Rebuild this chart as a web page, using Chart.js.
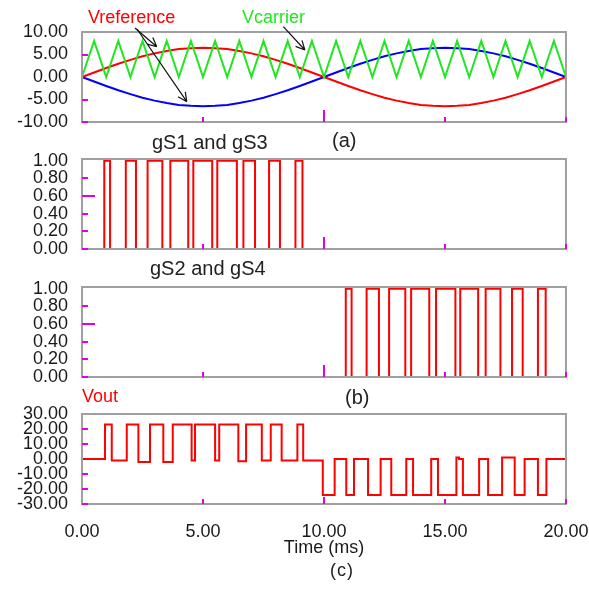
<!DOCTYPE html>
<html>
<head>
<meta charset="utf-8">
<title>Unipolar PWM waveforms</title>
<script src="https://cdn.jsdelivr.net/npm/chart.js@4.4.1/dist/chart.umd.min.js"></script>
<style>
  body { margin: 0; background: #fff; }
  #wrap { position: relative; width: 589px; height: 592px; overflow: hidden; font-family: "Liberation Sans", Arial, sans-serif; }
  #wrap canvas { position: absolute; left: 0; }
  .lbl { position: absolute; white-space: nowrap; font-size: 18px; line-height: 18px; color: #222; }
  .big { font-size: 20px; line-height: 20px; }
</style>
</head>
<body>
<div id="wrap">
  <canvas id="chartA" width="589" height="150" style="top:0px"></canvas>
  <canvas id="chartB" width="589" height="160" style="top:120px"></canvas>
  <canvas id="chartC" width="589" height="160" style="top:250px"></canvas>
  <canvas id="chartD" width="589" height="212" style="top:380px"></canvas>

  <div class="lbl" style="left:88px;top:8px;color:#ff0000">Vreference</div>
  <div class="lbl" style="left:242px;top:8px;color:#22e622">Vcarrier</div>
  <div class="lbl big" style="left:332px;top:130px">(a)</div>
  <div class="lbl big" style="left:152px;top:132px">gS1 and gS3</div>
  <div class="lbl big" style="left:150px;top:258px">gS2 and gS4</div>
  <div class="lbl" style="left:82px;top:386.5px;color:#ff0000">Vout</div>
  <div class="lbl big" style="left:345px;top:387px">(b)</div>
  <div class="lbl" style="left:330px;top:561px;letter-spacing:1px">(c)</div>
</div>
<script>
// time axis (ms) for the reference / carrier traces
const timeMs = [0, 0.5, 1, 1.5, 2, 2.5, 3, 3.5, 4, 4.5, 5, 5.5, 6, 6.5, 7, 7.5, 8, 8.5, 9, 9.5, 10,
  10.5, 11, 11.5, 12, 12.5, 13, 13.5, 14, 14.5, 15, 15.5, 16, 16.5, 17, 17.5, 18, 18.5, 19, 19.5, 20];
const vReference = [0, 1.0, 2.0, 2.95, 3.8, 4.6, 5.25, 5.8, 6.2, 6.4, 6.5, 6.4, 6.2, 5.8, 5.25, 4.6, 3.8, 2.95, 2.0, 1.0, 0,
  -1.0, -2.0, -2.95, -3.8, -4.6, -5.25, -5.8, -6.2, -6.4, -6.5, -6.4, -6.2, -5.8, -5.25, -4.6, -3.8, -2.95, -2.0, -1.0, 0];
const vReferenceInv = [0, -1.0, -2.0, -2.95, -3.8, -4.6, -5.25, -5.8, -6.2, -6.4, -6.5, -6.4, -6.2, -5.8, -5.25, -4.6, -3.8, -2.95, -2.0, -1.0, 0,
  1.0, 2.0, 2.95, 3.8, 4.6, 5.25, 5.8, 6.2, 6.4, 6.5, 6.4, 6.2, 5.8, 5.25, 4.6, 3.8, 2.95, 2.0, 1.0, 0];
const vCarrier = [0, 8, 0, 8, 0, 8, 0, 8, 0, 8, 0, 8, 0, 8, 0, 8, 0, 8, 0, 8, 0,
  8, 0, 8, 0, 8, 0, 8, 0, 8, 0, 8, 0, 8, 0, 8, 0, 8, 0, 8, 0];

// gate pulse edges (ms)
const gs13Rise = [0.92, 1.81, 2.71, 3.65, 4.60, 5.59, 6.67, 7.73, 8.82];
const gs13Fall = [1.16, 2.23, 3.32, 4.39, 5.38, 6.40, 7.15, 8.18, 9.11];
const gs24Rise = [10.90, 11.76, 12.69, 13.60, 14.63, 15.63, 16.68, 17.77, 18.84];
const gs24Fall = [11.14, 12.27, 13.36, 14.35, 15.43, 16.37, 17.29, 18.21, 19.16];

// output voltage, level held from each time until the next
const voutTimes = [0, 0.95, 1.23, 1.85, 2.33, 2.81, 3.36, 3.75, 4.53, 4.67, 5.50, 5.67, 6.46, 6.78, 7.43, 7.80, 8.25, 8.90, 9.14,
  9.95, 10.44, 10.92, 11.24, 11.82, 12.34, 12.78, 13.40, 13.68, 14.43, 14.71, 15.47, 15.58, 15.74, 16.41, 16.78, 17.36, 17.88,
  18.29, 18.84, 19.19, 20];
const voutLevels = [0, 23, -1, 23, -2, 23, -2, 23, -1, 23, -1, 23, -1.5, 23, -1, 23, -1, 23, -1,
  -24, 0, -24, 0, -24, 0, -24, 0, -24, 0, -24, 1, 0, -24, 0, -24, 1, -24,
  0, -24, 0, 0];

// axis ticks
const xTicks = [0, 5, 10, 15, 20];
const yTicksA = [-10, -5, 0, 5, 10];
const yTicksGate = [0, 0.2, 0.4, 0.6, 0.8, 1];
const yTicksOut = [-30, -20, -10, 0, 10, 20, 30];

// annotation arrows, [time, volts]
const arrowTails = [[2.19, 10.9], [2.27, 10.67], [8.32, 11.18]];
const arrowHeads = [[3.09, 6.73], [4.33, -5.49], [9.21, 6.0]];

const FONT = '"Liberation Sans", Arial, sans-serif';
const RED = '#ff0000';

function xy(xs, ys) {
  return xs.map((x, i) => ({ x: x, y: ys[i] }));
}

function gateSteps(rise, fall) {
  const pts = [{ x: 0, y: 0 }];
  rise.forEach((t, i) => pts.push({ x: t, y: 1 }, { x: fall[i], y: 0 }));
  pts.push({ x: 20, y: 0 });
  return pts;
}

// gray frame + magenta minor marks, drawn over the traces
const frame = {
  id: 'frame',
  afterDatasetsDraw(chart, args, opts) {
    const { ctx, chartArea: a, scales: { x, y } } = chart;
    ctx.save();
    ctx.strokeStyle = '#a0a0a0';
    ctx.lineWidth = 2;
    ctx.strokeRect(a.left, a.top, a.right - a.left, a.bottom - a.top);
    ctx.strokeStyle = '#e000e0';
    ctx.beginPath();
    opts.yMarks.forEach((v) => {
      const py = Math.round(y.getPixelForValue(v));
      ctx.moveTo(a.left, py);
      ctx.lineTo(a.left + (v === opts.yLong ? 13 : 6), py);
    });
    opts.xMarks.forEach((v) => {
      const px = Math.round(x.getPixelForValue(v));
      ctx.moveTo(px, a.bottom);
      ctx.lineTo(px, a.bottom - (v === 10 ? opts.xLong : 5));
    });
    ctx.stroke();
    ctx.restore();
  }
};

const arrows = {
  id: 'arrows',
  afterDraw(chart) {
    const { ctx, scales: { x, y } } = chart;
    ctx.save();
    ctx.strokeStyle = '#111';
    ctx.lineWidth = 1.2;
    arrowTails.forEach((s, i) => {
      const e = arrowHeads[i];
      const x0 = x.getPixelForValue(s[0]), y0 = y.getPixelForValue(s[1]);
      const x1 = x.getPixelForValue(e[0]), y1 = y.getPixelForValue(e[1]);
      const ang = Math.atan2(y1 - y0, x1 - x0);
      ctx.beginPath();
      ctx.moveTo(x0, y0);
      ctx.lineTo(x1, y1);
      [-0.45, 0.45].forEach((d) => {
        ctx.moveTo(x1, y1);
        ctx.lineTo(x1 - 10 * Math.cos(ang + d), y1 - 10 * Math.sin(ang + d));
      });
      ctx.stroke();
    });
    ctx.restore();
  }
};

function yAxis(min, max, ticks) {
  return {
    min: min,
    max: max,
    afterBuildTicks: (s) => { s.ticks = ticks.map((v) => ({ value: v })); },
    afterFit: (s) => { s.width = 82; s.paddingTop = 0; s.paddingBottom = 0; },
    grid: { display: false, drawTicks: false },
    border: { display: false },
    ticks: {
      autoSkip: false,
      padding: 14,
      color: '#1a1a1a',
      font: { size: 18, family: FONT },
      callback: (v) => Number(v).toFixed(2)
    }
  };
}

function line(data, color, stepped) {
  return {
    data: data,
    borderColor: color,
    borderWidth: 2,
    pointRadius: 0,
    fill: false,
    tension: 0,
    stepped: stepped || false,
    clip: 2
  };
}

function makeChart(id, datasets, yScale, xScale, padding, marks, extra) {
  return new Chart(document.getElementById(id), {
    type: 'line',
    data: { datasets: datasets },
    options: {
      responsive: false,
      animation: false,
      events: [],
      layout: { padding: padding },
      scales: { x: xScale, y: yScale },
      plugins: { legend: { display: false }, tooltip: { enabled: false }, frame: marks }
    },
    plugins: [frame].concat(extra || [])
  });
}

const hiddenX = { type: 'linear', min: 0, max: 20, display: false };

makeChart('chartA', [
  line(xy(timeMs, vCarrier), '#22e622'),
  line(xy(timeMs, vReference), RED),
  line(xy(timeMs, vReferenceInv), '#0000ff')
], yAxis(-10, 10, yTicksA), hiddenX, { top: 32, bottom: 28, left: 0, right: 23 },
  { yMarks: [-10, -5, 5], yLong: null, xMarks: [5, 10, 15, 20], xLong: 12 }, [arrows]);

makeChart('chartB', [line(gateSteps(gs13Rise, gs13Fall), RED, true)],
  yAxis(0, 1.02, yTicksGate), hiddenX, { top: 39, bottom: 31, left: 0, right: 23 },
  { yMarks: [0, 0.2, 0.4, 0.6, 0.8], yLong: 0.6, xMarks: [5, 10, 15, 20], xLong: 12 });

makeChart('chartC', [line(gateSteps(gs24Rise, gs24Fall), RED, true)],
  yAxis(0, 1.02, yTicksGate), hiddenX, { top: 37, bottom: 33, left: 0, right: 23 },
  { yMarks: [0, 0.2, 0.4, 0.6, 0.8], yLong: 0.6, xMarks: [5, 10, 15, 20], xLong: 12 });

makeChart('chartD', [line(xy(voutTimes, voutLevels), RED, true)],
  yAxis(-30, 30, yTicksOut), {
    type: 'linear',
    min: 0,
    max: 20,
    afterBuildTicks: (s) => { s.ticks = xTicks.map((v) => ({ value: v })); },
    afterFit: (s) => { s.height = 88; s.paddingLeft = 0; s.paddingRight = 0; },
    grid: { display: false, drawTicks: false },
    border: { display: false },
    ticks: {
      autoSkip: false,
      maxRotation: 0,
      padding: 17,
      color: '#1a1a1a',
      font: { size: 18, family: FONT },
      callback: (v) => Number(v).toFixed(2)
    },
    title: {
      display: true,
      text: 'Time (ms)',
      color: '#1a1a1a',
      font: { size: 18, family: FONT },
      padding: { top: 0, bottom: 33 }
    }
  }, { top: 34, bottom: 0, left: 0, right: 23 },
  { yMarks: [-30, -20, -10, 10, 20], yLong: null, xMarks: [5, 10, 15, 20], xLong: 7 });
</script>
</body>
</html>
